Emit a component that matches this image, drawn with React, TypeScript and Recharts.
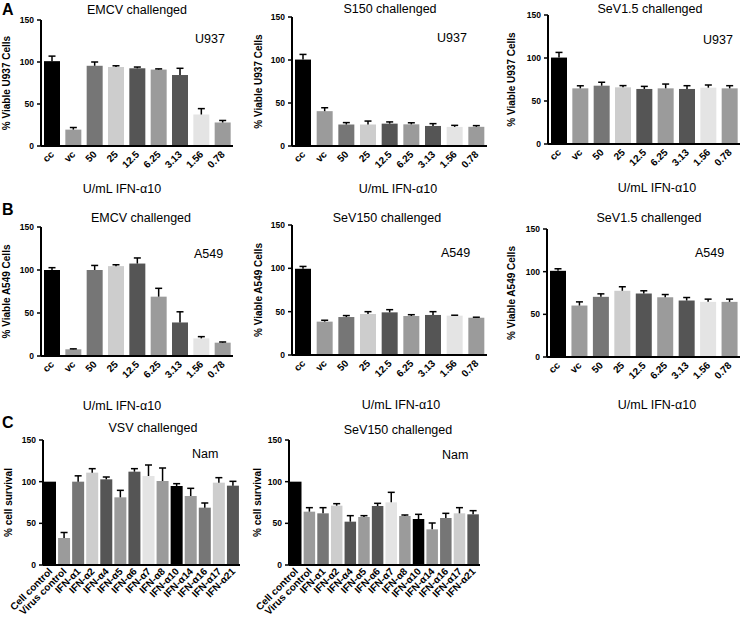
import { Bar, BarChart, XAxis, YAxis } from "recharts";

const doseLabels = ["cc", "vc", "50", "25", "12.5", "6.25", "3.13", "1.56", "0.78"];
const ifnLabels = [
  "Cell control", "Virus control", "IFN-α1", "IFN-α2", "IFN-α4", "IFN-α5", "IFN-α6",
  "IFN-α7", "IFN-α8", "IFN-α10", "IFN-α14", "IFN-α16", "IFN-α17", "IFN-α21",
];
const yTicks = [0, 50, 100, 150];

// A: U937 cells
const emcvU937 = [101, 19.5, 95.5, 94, 92.5, 91, 84.5, 37.5, 28];
const emcvU937Err = [6, 2.5, 4.5, 1.5, 1.5, 0.8, 8, 7, 2.4];
const s150U937 = [100.5, 40.5, 25, 25, 26, 25.2, 23.3, 22.2, 22.3];
const s150U937Err = [6, 4, 2.2, 4, 2, 1.8, 2.7, 1.8, 1.4];
const sev15U937 = [100.5, 64.7, 67.8, 65.9, 64, 64.7, 64, 65.5, 64.7];
const sev15U937Err = [6, 3, 4, 2, 3, 5, 3.8, 3.1, 3.1];

// B: A549 cells
const emcvA549 = [100, 7.8, 100, 104.5, 107.5, 69, 39, 20.5, 15.5];
const emcvA549Err = [2.7, 0.5, 5.3, 1.6, 6.5, 9.7, 12.4, 2, 0.8];
const sev150A549 = [99.5, 38.5, 43.8, 47.3, 49.2, 45, 46.2, 45.4, 43];
const sev150A549Err = [2.7, 1.6, 1.7, 2.7, 3.1, 1.5, 3.8, 0.5, 0.6];
const sev15A549 = [101, 60.3, 70.5, 77.6, 74.4, 70, 66.2, 64.6, 64.6];
const sev15A549Err = [2.4, 4.3, 3.5, 4.7, 3.2, 3.2, 3.5, 3.2, 3.2];

// C: Namalwa cells, IFN subtypes
const vsvNam = [100, 32.4, 100, 110.8, 102.8, 81.2, 112, 106.8, 100.8, 94.8, 82.8, 68.8, 98.8, 95.2];
const vsvNamErr = [0, 6.6, 7, 4.8, 2.8, 8.4, 3.6, 13.2, 15.6, 2.8, 9.2, 5.6, 6, 5.2];
const sev150Nam = [100, 64, 62, 71.2, 52, 57.6, 70.8, 75.2, 58.8, 55.2, 42.8, 56.4, 62, 60.8];
const sev150NamErr = [0, 4.8, 6.8, 2.4, 7.2, 1.6, 3.2, 12, 1.2, 5.6, 7.6, 5.6, 6.8, 4.4];

const barColors = ["#000000", "#9b9b9b", "#767676", "#cdcdcd", "#555555", "#9b9b9b", "#555555", "#e4e4e4", "#9b9b9b"];

const FONT = "'Liberation Sans', Arial, sans-serif";

const panels = [
  { cats: doseLabels, values: emcvU937, errs: emcvU937Err, axisX: 41, topY: 20, zeroY: 146, rightX: 233, barSize: 16, tickFont: 10, tickDy: 9,
    title: "EMCV challenged", titleX: 137, titleY: 14, cell: "U937", cellX: 195, cellY: 43,
    yLabel: "% Viable U937 Cells", yLabelX: 6, xLabel: "U/mL IFN-α10", xLabelX: 122, xLabelY: 193 },
  { cats: doseLabels, values: s150U937, errs: s150U937Err, axisX: 292, topY: 17, zeroY: 146, rightX: 487, barSize: 16, tickFont: 10, tickDy: 9,
    title: "S150 challenged", titleX: 390, titleY: 13, cell: "U937", cellX: 437, cellY: 42,
    yLabel: "% Viable U937 Cells", yLabelX: 258, xLabel: "U/mL IFN-α10", xLabelX: 398, xLabelY: 193 },
  { cats: doseLabels, values: sev15U937, errs: sev15U937Err, axisX: 548, topY: 15, zeroY: 144, rightX: 740, barSize: 16, tickFont: 10, tickDy: 9,
    title: "SeV1.5 challenged", titleX: 650, titleY: 13, cell: "U937", cellX: 703, cellY: 44,
    yLabel: "% Viable U937 Cells", yLabelX: 511, xLabel: "U/mL IFN-α10", xLabelX: 657, xLabelY: 192 },
  { cats: doseLabels, values: emcvA549, errs: emcvA549Err, axisX: 41, topY: 227, zeroY: 356, rightX: 233, barSize: 16, tickFont: 10, tickDy: 9,
    title: "EMCV challenged", titleX: 141, titleY: 222, cell: "A549", cellX: 194, cellY: 258,
    yLabel: "% Viable A549 Cells", yLabelX: 6, xLabel: "U/mL IFN-α10", xLabelX: 122, xLabelY: 410 },
  { cats: doseLabels, values: sev150A549, errs: sev150A549Err, axisX: 292, topY: 225, zeroY: 355, rightX: 487, barSize: 16, tickFont: 10, tickDy: 9,
    title: "SeV150 challenged", titleX: 387, titleY: 222, cell: "A549", cellX: 441, cellY: 257,
    yLabel: "% Viable A549 Cells", yLabelX: 258, xLabel: "U/mL IFN-α10", xLabelX: 401, xLabelY: 409 },
  { cats: doseLabels, values: sev15A549, errs: sev15A549Err, axisX: 547, topY: 229, zeroY: 357, rightX: 740, barSize: 16, tickFont: 10, tickDy: 9,
    title: "SeV1.5 challenged", titleX: 649, titleY: 222, cell: "A549", cellX: 695, cellY: 257,
    yLabel: "% Viable A549 Cells", yLabelX: 511, xLabel: "U/mL IFN-α10", xLabelX: 657, xLabelY: 409 },
  { cats: ifnLabels, values: vsvNam, errs: vsvNamErr, axisX: 43, topY: 440, zeroY: 565, rightX: 240, barSize: 12, tickFont: 10, tickDy: 7,
    title: "VSV challenged", titleX: 153, titleY: 432, cell: "Nam", cellX: 192, cellY: 458,
    yLabel: "% cell survival", yLabelX: 8, xLabel: "", xLabelX: 0, xLabelY: 0 },
  { cats: ifnLabels, values: sev150Nam, errs: sev150NamErr, axisX: 289, topY: 440, zeroY: 565, rightX: 480, barSize: 11.5, tickFont: 10, tickDy: 7,
    title: "SeV150 challenged", titleX: 398, titleY: 434, cell: "Nam", cellX: 442, cellY: 459,
    yLabel: "% cell survival", yLabelX: 257, xLabel: "", xLabelX: 0, xLabelY: 0 },
];

function ErrBarShape(props: any) {
  const { x, y, width, height, payload } = props;
  const h = Math.abs(height);
  const unit = payload.value ? h / payload.value : 0;
  const top = y - payload.err * unit;
  const cx = x + width / 2;
  return (
    <g>
      <rect x={x} y={y} width={width} height={h} fill={payload.fill} />
      {payload.err > 0 && (
        <g stroke="#000" strokeWidth={1.5}>
          <line x1={cx} y1={y} x2={cx} y2={top} />
          <line x1={cx - 3.5} y1={top} x2={cx + 3.5} y2={top} />
        </g>
      )}
    </g>
  );
}

function SlantTick({ x, y, payload, size, dy }: any) {
  const tx = x + 3;
  const ty = y + dy;
  return (
    <text x={tx} y={ty} transform={`rotate(-45 ${tx} ${ty})`} textAnchor="end"
      fontSize={size} fontWeight="bold" fontFamily={FONT} fill="#000">
      {payload.value}
    </text>
  );
}

function Panel({ p }: { p: any }) {
  const yW = 40;
  const w = p.rightX - p.axisX + yW + 1;
  const h = p.zeroY - p.topY + 5 + 60;
  const rows = p.cats.map((c: string, i: number) => ({
    name: c, value: p.values[i], err: p.errs[i], fill: barColors[i % 9],
  }));
  return (
    <div style={{ position: "absolute", left: p.axisX - yW, top: p.topY - 5 }}>
      <BarChart width={w} height={h} data={rows} barSize={p.barSize} style={{ overflow: "visible" }}
        margin={{ top: 5, right: 1, left: 0, bottom: 0 }}>
        <XAxis dataKey="name" interval={0} height={60} tickLine={false} tickSize={0} tickMargin={0}
          axisLine={{ stroke: "#000", strokeWidth: 2 }} tick={<SlantTick size={p.tickFont} dy={p.tickDy} />} />
        <YAxis domain={[0, 150]} ticks={yTicks} width={yW} tickSize={4} tickMargin={3}
          axisLine={{ stroke: "#000", strokeWidth: 2 }} tickLine={{ stroke: "#000", strokeWidth: 1.5 }}
          tick={{ fill: "#000", fontSize: 8.5, fontWeight: "bold", fontFamily: FONT }} />
        <Bar dataKey="value" shape={<ErrBarShape />} isAnimationActive={false} />
      </BarChart>
    </div>
  );
}

export default function App() {
  return (
    <div style={{ position: "absolute", left: 0, top: 0, width: 741, height: 617, background: "#fff", overflow: "hidden" }}>
      {panels.map((p, i) => <Panel key={i} p={p} />)}
      <svg width={741} height={617} style={{ position: "absolute", left: 0, top: 0, pointerEvents: "none" }}
        fontFamily={FONT} fill="#000">
        <text x={2} y={15} fontSize={16} fontWeight="bold">A</text>
        <text x={2} y={215} fontSize={16} fontWeight="bold">B</text>
        <text x={2} y={428} fontSize={16} fontWeight="bold">C</text>
        {panels.map((p, i) => {
          const midY = (p.topY + p.zeroY) / 2;
          return (
            <g key={i}>
              <text x={p.titleX} y={p.titleY} fontSize={12.5} textAnchor="middle">{p.title}</text>
              <text x={p.cellX} y={p.cellY} fontSize={12.5}>{p.cell}</text>
              <text x={p.yLabelX} y={midY} fontSize={10} fontWeight="bold" textAnchor="middle"
                dominantBaseline="central" transform={`rotate(-90 ${p.yLabelX} ${midY})`}>{p.yLabel}</text>
              {p.xLabel && (
                <text x={p.xLabelX} y={p.xLabelY} fontSize={12.5} textAnchor="middle">{p.xLabel}</text>
              )}
            </g>
          );
        })}
      </svg>
    </div>
  );
}
